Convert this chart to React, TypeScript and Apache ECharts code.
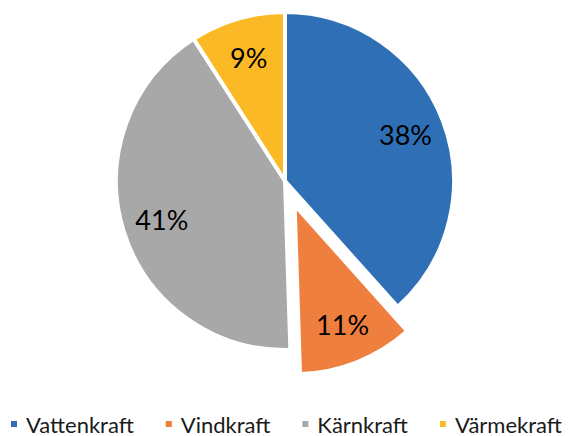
import React, { useEffect, useRef } from "react";
import * as echarts from "echarts";

const categories = ["Vattenkraft", "Vindkraft", "Kärnkraft", "Värmekraft"];
const values = [38, 11, 41, 9];
const colors = ["#2E6FB6", "#EF7F3E", "#A8A8A8", "#FBB925"];
const explodedIndex = 1;

export default function App() {
  const ref = useRef<HTMLDivElement>(null);
  useEffect(() => {
    if (!ref.current) return;
    const chart = echarts.init(ref.current, undefined, { renderer: "svg" });
    const data = categories.map((name, i) => ({
      name,
      value: values[i],
      selected: i === explodedIndex,
      itemStyle: { color: colors[i] },
    }));
    const labelData = categories.map((name, i) => ({
      name,
      value: values[i],
      selected: i === explodedIndex,
    }));
    chart.setOption({
      animation: false,
      backgroundColor: "#ffffff",
      legend: {
        data: categories,
        left: 1,
        top: 405,
        padding: 0,
        width: 620,
        icon: "rect",
        itemWidth: 8,
        itemHeight: 8,
        itemGap: 30,
        selectedMode: false,
        textStyle: {
          fontFamily: "Lato",
          fontSize: 22,
          lineHeight: 20,
          color: "#1a1a1a",
          padding: [0, 0, 0, 3],
        },
      },
      series: [
        {
          type: "pie",
          center: [277, 173],
          radius: [0, 169],
          startAngle: 90,
          clockwise: true,
          selectedMode: "single",
          selectedOffset: 26,
          silent: true,
          label: { show: false },
          labelLine: { show: false },
          itemStyle: { borderColor: "#ffffff", borderWidth: 4 },
          emphasis: { disabled: true },
          data,
        },
        {
          type: "pie",
          center: [277, 173],
          radius: [83, 169],
          startAngle: 90,
          clockwise: true,
          selectedMode: "single",
          selectedOffset: 26,
          silent: true,
          itemStyle: { color: "rgba(0,0,0,0)", borderWidth: 0 },
          label: {
            show: true,
            position: "inside",
            formatter: "{c}%",
            fontFamily: "Lato",
            fontSize: 27,
            color: "#000000",
          },
          labelLine: { show: false },
          emphasis: { disabled: true },
          data: labelData,
        },
      ],
    });
    return () => chart.dispose();
  }, []);
  return <div ref={ref} style={{ width: 564, height: 428 }} />;
}
